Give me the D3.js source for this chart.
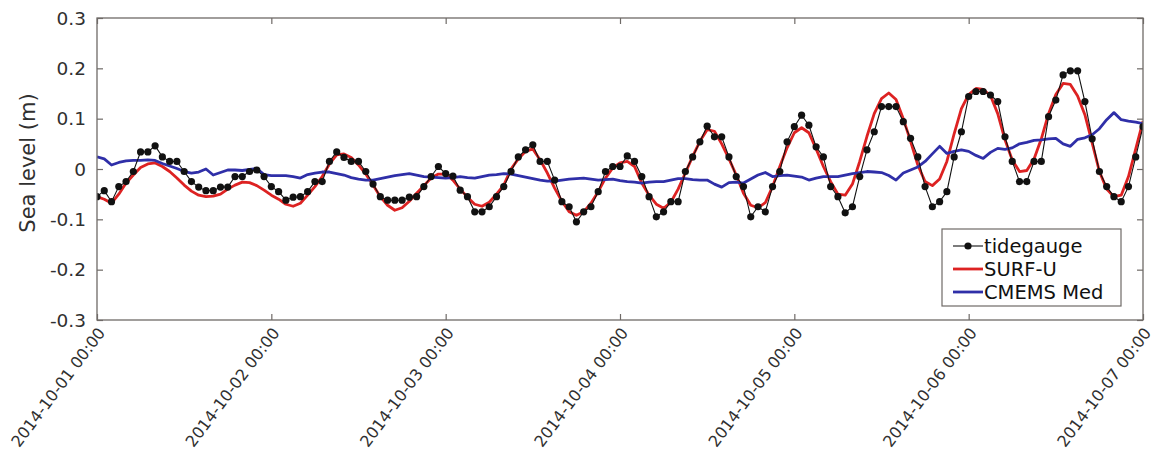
<!DOCTYPE html>
<html><head><meta charset="utf-8">
<script src="https://cdn.jsdelivr.net/npm/d3@7"></script>
<style>body{margin:0;background:#fff;} svg{display:block;}</style>
</head><body>
<svg id="chart" width="1154" height="463"></svg>
<script>
// Hourly values from 2014-10-01 00:00 to 2014-10-07 00:00
const startTime = "2014-10-01T00:00:00";
const tickLabels = ["2014-10-01 00:00","2014-10-02 00:00","2014-10-03 00:00","2014-10-04 00:00","2014-10-05 00:00","2014-10-06 00:00","2014-10-07 00:00"];
const yTicks = [-0.3,-0.2,-0.1,0,0.1,0.2,0.3];
const yTickLabels = ["-0.3","-0.2","-0.1","0","0.1","0.2","0.3"];
const seriesNames = ["tidegauge","SURF-U","CMEMS Med"];

const tidegauge = [
 -0.055,-0.043,-0.065,-0.035,-0.025,-0.005,0.034,0.034,0.046,0.024,0.015,0.015,-0.005,-0.025,-0.036,-0.043,-0.043,-0.036,-0.036,-0.015,-0.015,-0.005,-0.002,-0.015,
 -0.035,-0.045,-0.062,-0.056,-0.055,-0.045,-0.025,-0.025,0.015,0.034,0.023,0.015,0.015,-0.005,-0.03,-0.055,-0.062,-0.062,-0.062,-0.056,-0.055,-0.035,-0.015,0.005,
 -0.009,-0.014,-0.042,-0.055,-0.085,-0.085,-0.075,-0.055,-0.035,-0.005,0.024,0.038,0.048,0.015,0.015,-0.022,-0.065,-0.075,-0.105,-0.085,-0.075,-0.045,-0.005,0.005,
 0.005,0.026,0.015,-0.015,-0.055,-0.095,-0.085,-0.065,-0.065,-0.005,0.024,0.054,0.085,0.064,0.064,0.024,-0.015,-0.035,-0.095,-0.075,-0.085,-0.035,-0.005,0.054,
 0.084,0.107,0.087,0.044,0.024,-0.035,-0.055,-0.087,-0.075,-0.015,0.038,0.074,0.124,0.124,0.124,0.094,0.061,0.024,-0.035,-0.075,-0.065,-0.045,0.024,0.074,
 0.144,0.154,0.154,0.147,0.134,0.064,0.015,-0.025,-0.025,0.015,0.015,0.104,0.137,0.187,0.195,0.195,0.134,0.06,-0.005,-0.035,-0.055,-0.065,-0.035,0.024,
 0.084
];
const surfU = [
 -0.055,-0.06,-0.068,-0.05,-0.028,-0.012,0.003,0.01,0.012,0.005,-0.005,-0.018,-0.032,-0.044,-0.052,-0.055,-0.054,-0.05,-0.04,-0.032,-0.026,-0.027,-0.033,-0.042,
 -0.052,-0.06,-0.07,-0.074,-0.068,-0.052,-0.035,-0.015,0.01,0.028,0.03,0.023,0.008,-0.01,-0.032,-0.055,-0.072,-0.082,-0.077,-0.064,-0.048,-0.033,-0.018,-0.01,
 -0.01,-0.022,-0.04,-0.056,-0.07,-0.074,-0.066,-0.05,-0.032,0.0,0.02,0.035,0.04,0.018,-0.008,-0.038,-0.064,-0.085,-0.092,-0.085,-0.068,-0.045,-0.018,0.002,
 0.012,0.015,0.005,-0.028,-0.052,-0.07,-0.078,-0.066,-0.04,-0.008,0.025,0.055,0.078,0.075,0.05,0.02,-0.012,-0.048,-0.072,-0.077,-0.067,-0.035,0.005,0.042,
 0.072,0.082,0.072,0.04,0.005,-0.025,-0.05,-0.052,-0.03,0.015,0.065,0.11,0.14,0.151,0.138,0.1,0.055,0.008,-0.025,-0.033,-0.02,0.015,0.07,0.12,
 0.148,0.16,0.158,0.146,0.11,0.058,0.018,-0.005,-0.003,0.02,0.06,0.11,0.148,0.17,0.168,0.145,0.108,0.052,-0.005,-0.04,-0.055,-0.052,-0.015,0.04,
 0.095
];
const cmems = [
 0.024,0.02,0.008,0.013,0.016,0.017,0.017,0.018,0.017,0.011,0.006,0.001,-0.005,-0.008,-0.006,0.0,-0.012,-0.007,-0.002,-0.002,-0.003,-0.001,0.001,-0.011,
 -0.013,-0.013,-0.013,-0.015,-0.018,-0.011,-0.008,-0.006,-0.006,-0.009,-0.012,-0.017,-0.02,-0.022,-0.022,-0.019,-0.016,-0.013,-0.011,-0.009,-0.012,-0.015,-0.016,-0.017,
 -0.018,-0.017,-0.015,-0.017,-0.018,-0.015,-0.012,-0.011,-0.009,-0.01,-0.013,-0.016,-0.019,-0.022,-0.024,-0.024,-0.022,-0.02,-0.019,-0.018,-0.02,-0.022,-0.021,-0.02,
 -0.023,-0.025,-0.026,-0.028,-0.026,-0.025,-0.025,-0.022,-0.019,-0.019,-0.021,-0.022,-0.022,-0.03,-0.036,-0.027,-0.026,-0.028,-0.02,-0.012,-0.007,-0.015,-0.013,-0.012,
 -0.014,-0.016,-0.022,-0.018,-0.015,-0.015,-0.015,-0.012,-0.009,-0.007,-0.005,-0.006,-0.007,-0.013,-0.022,-0.008,-0.002,0.004,0.015,0.03,0.045,0.031,0.035,0.038,
 0.035,0.027,0.021,0.033,0.041,0.039,0.042,0.05,0.053,0.057,0.058,0.06,0.061,0.05,0.045,0.059,0.062,0.068,0.08,0.098,0.112,0.098,0.095,0.093,
 0.09
];

const svg = d3.select("#chart");
const W = 1154, H = 463;
const m = {left: 97, right: 1154 - 1143, top: 18, bottom: 463 - 320};
const t0 = new Date(startTime);
const timeAt = i => new Date(t0.getTime() + i * 3600 * 1000);
const x = d3.scaleTime().domain([t0, timeAt(144)]).range([m.left, W - m.right]);
const y = d3.scaleLinear().domain([-0.3, 0.3]).range([H - m.bottom, m.top]);
const axisColor = "#6f6a67";
const textColor = "#303030";
const font = "'DejaVu Sans', Verdana, sans-serif";

svg.append("defs").append("clipPath").attr("id","clip")
  .append("rect").attr("x", m.left).attr("y", m.top)
  .attr("width", W - m.right - m.left).attr("height", H - m.bottom - m.top);

const plot = svg.append("g").attr("clip-path","url(#clip)");
const line = d3.line().x((d,i) => x(timeAt(i))).y(d => y(d));

plot.append("path").datum(surfU).attr("d", line)
  .attr("fill","none").attr("stroke","#dd2222").attr("stroke-width",2.8).attr("stroke-linejoin","round");
plot.append("path").datum(cmems).attr("d", line)
  .attr("fill","none").attr("stroke","#2f2fa8").attr("stroke-width",2.8).attr("stroke-linejoin","round");
plot.append("path").datum(tidegauge).attr("d", line)
  .attr("fill","none").attr("stroke","#111").attr("stroke-width",1.1);
plot.selectAll("circle.tg").data(tidegauge).join("circle").attr("class","tg")
  .attr("cx",(d,i) => x(timeAt(i))).attr("cy", d => y(d)).attr("r",3.6).attr("fill","#111");

// axes
const tickDates = tickLabels.map((s,i) => timeAt(i*24));
const xb = d3.axisBottom(x).tickValues(tickDates).tickSize(-6).tickFormat("");
const xt = d3.axisTop(x).tickValues(tickDates).tickSize(-6).tickFormat("");
const yl = d3.axisLeft(y).tickValues(yTicks).tickSize(-6).tickFormat("");
const yr = d3.axisRight(y).tickValues(yTicks).tickSize(-6).tickFormat("");
function styleAxis(g){ g.selectAll("path,line").attr("stroke", axisColor).attr("stroke-width",1.2); g.select(".domain").remove(); }
svg.append("g").attr("transform",`translate(0,${H-m.bottom})`).call(xb).call(styleAxis);
svg.append("g").attr("transform",`translate(0,${m.top})`).call(xt).call(styleAxis);
svg.append("g").attr("transform",`translate(${m.left},0)`).call(yl).call(styleAxis);
svg.append("g").attr("transform",`translate(${W-m.right},0)`).call(yr).call(styleAxis);
svg.append("rect").attr("x",m.left).attr("y",m.top).attr("width",W-m.right-m.left).attr("height",H-m.bottom-m.top)
  .attr("fill","none").attr("stroke",axisColor).attr("stroke-width",1.3);

// y tick labels
svg.append("g").selectAll("text").data(yTicks).join("text")
  .attr("x", m.left - 11).attr("y", d => y(d)).attr("dy","0.36em")
  .attr("text-anchor","end").attr("font-family",font).attr("font-size",18.5).attr("fill",textColor)
  .text((d,i) => yTickLabels[i]);

// x tick labels
svg.append("g").selectAll("text").data(tickLabels).join("text")
  .attr("transform",(d,i) => `translate(${x(tickDates[i])+9},${H-m.bottom+13}) rotate(-53)`)
  .attr("text-anchor","end").attr("font-family",font).attr("font-size",16).attr("fill",textColor)
  .text(d => d);

// y axis title
svg.append("text").attr("transform",`translate(35,${(m.top + H - m.bottom)/2 - 6}) rotate(-90)`)
  .attr("text-anchor","middle").attr("font-family",font).attr("font-size",21).attr("fill",textColor)
  .text("Sea level (m)");

// legend
const lg = svg.append("g");
lg.append("rect").attr("x",942).attr("y",229).attr("width",179).attr("height",77)
  .attr("fill","#fff").attr("stroke",axisColor).attr("stroke-width",1.2);
const rowsY = [246, 269, 292];
const colors = ["#111","#dd2222","#2f2fa8"];
seriesNames.forEach((nm,i) => {
  lg.append("line").attr("x1",953).attr("x2",983).attr("y1",rowsY[i]).attr("y2",rowsY[i])
    .attr("stroke",colors[i]).attr("stroke-width", i===0 ? 1.1 : 2.8);
  if(i===0) lg.append("circle").attr("cx",968).attr("cy",rowsY[i]).attr("r",3.6).attr("fill","#111");
  lg.append("text").attr("x",984).attr("y",rowsY[i]).attr("dy","0.36em")
    .attr("font-family",font).attr("font-size",19.5).attr("fill","#111").text(nm);
});
</script>
</body></html>
